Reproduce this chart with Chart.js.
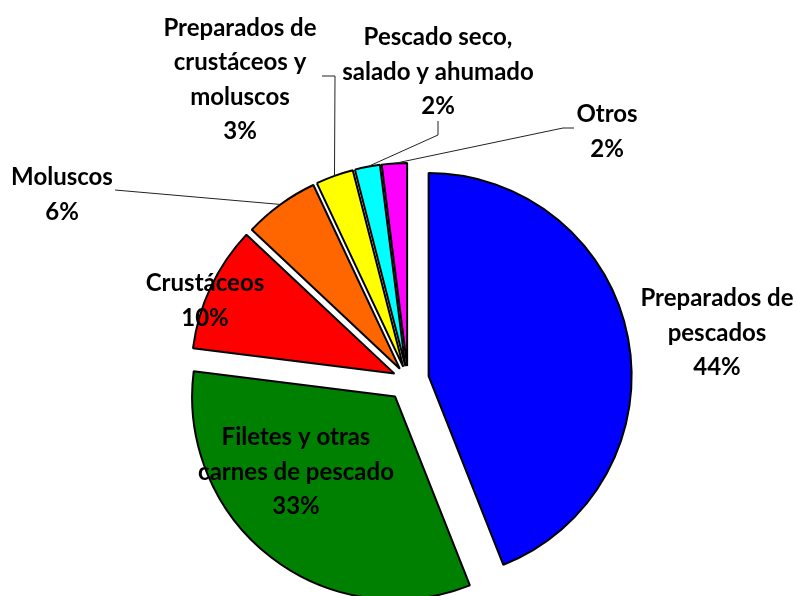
<!DOCTYPE html>
<html>
<head>
<meta charset="utf-8">
<script src="https://cdn.jsdelivr.net/npm/chart.js@4.4.1/dist/chart.umd.min.js"></script>
<style>
  html, body { margin: 0; padding: 0; background: #fff; }
  #wrap { width: 797px; height: 596px; position: relative; }
</style>
</head>
<body>
<div id="wrap"><canvas id="pie" width="797" height="596"></canvas></div>
<script>
// categories (split into the lines used for the labels)
const categories = [
  ['Preparados de', 'pescados'],
  ['Filetes y otras', 'carnes de pescado'],
  ['Crustáceos'],
  ['Moluscos'],
  ['Preparados de', 'crustáceos y', 'moluscos'],
  ['Pescado seco,', 'salado y ahumado'],
  ['Otros']
]
const shares = [44, 33, 10, 6, 3, 2, 2]

const sliceColors = ['#0000ff', '#008000', '#ff0000', '#ff6600', '#ffff00', '#00ffff', '#ff00ff']
// how far each slice is pulled out of the pie, px
const explode = [21, 21, 15, 14, 14, 14, 14]
// label block centres, relative to the pie centre
const labelOffsets = [[309, -47], [-112, 92], [-203, -79], [-346, -185], [-168, -300], [30, -308], [199, -248]]
// leader lines: points relative to the label centre, then the line runs to the slice edge
const leaders = [null, null, null, [[53, -5]], [[82, -4], [95, -4]], [[0, 49], [0, 63]], [[-33, -4], [-44, -4]]]

const LINE_H = 34.5
const FONT = 'bold 24px Lato, "Open Sans", sans-serif'

const pieLabels = {
  id: 'pieLabels',
  afterDatasetUpdate(chart, args) {
    // pull the slices out along their middle angle
    args.meta.data.forEach((arc, i) => {
      const mid = (arc.startAngle + arc.endAngle) / 2
      arc.x += Math.cos(mid) * explode[i]
      arc.y += Math.sin(mid) * explode[i]
    })
  },
  afterDraw(chart) {
    const ctx = chart.ctx
    const meta = chart.getDatasetMeta(0)
    const total = shares.reduce((a, b) => a + b, 0)
    const cx = (chart.chartArea.left + chart.chartArea.right) / 2
    const cy = (chart.chartArea.top + chart.chartArea.bottom) / 2
    ctx.save()
    meta.data.forEach((arc, i) => {
      const lines = categories[i].concat([Math.round(shares[i] / total * 100) + '%'])
      const lx = cx + labelOffsets[i][0]
      const ly = cy + labelOffsets[i][1]
      if (leaders[i]) {
        const mid = (arc.startAngle + arc.endAngle) / 2
        const ex = arc.x + Math.cos(mid) * arc.outerRadius
        const ey = arc.y + Math.sin(mid) * arc.outerRadius
        ctx.beginPath()
        leaders[i].forEach((p, k) => {
          if (k === 0) ctx.moveTo(lx + p[0], ly + p[1])
          else ctx.lineTo(lx + p[0], ly + p[1])
        })
        ctx.lineTo(ex, ey)
        ctx.strokeStyle = '#222'
        ctx.lineWidth = 1
        ctx.stroke()
      }
      ctx.font = FONT
      ctx.fillStyle = '#000'
      ctx.textAlign = 'center'
      ctx.textBaseline = 'middle'
      const top = ly - (lines.length - 1) * LINE_H / 2
      lines.forEach((t, k) => ctx.fillText(t, lx, top + k * LINE_H))
    })
    ctx.restore()
  }
}

new Chart(document.getElementById('pie'), {
  type: 'pie',
  data: {
    labels: categories,
    datasets: [{
      data: shares,
      backgroundColor: sliceColors,
      borderColor: '#000',
      borderWidth: 2,
      offset: 0,
      hoverOffset: 0,
      hoverBorderWidth: 2
    }]
  },
  options: {
    responsive: false,
    animation: false,
    events: [],
    layout: { padding: { left: 200, right: 181, top: 176, bottom: 12 } },
    plugins: {
      legend: { display: false },
      tooltip: { enabled: false }
    }
  },
  plugins: [pieLabels]
})
</script>
</body>
</html>
